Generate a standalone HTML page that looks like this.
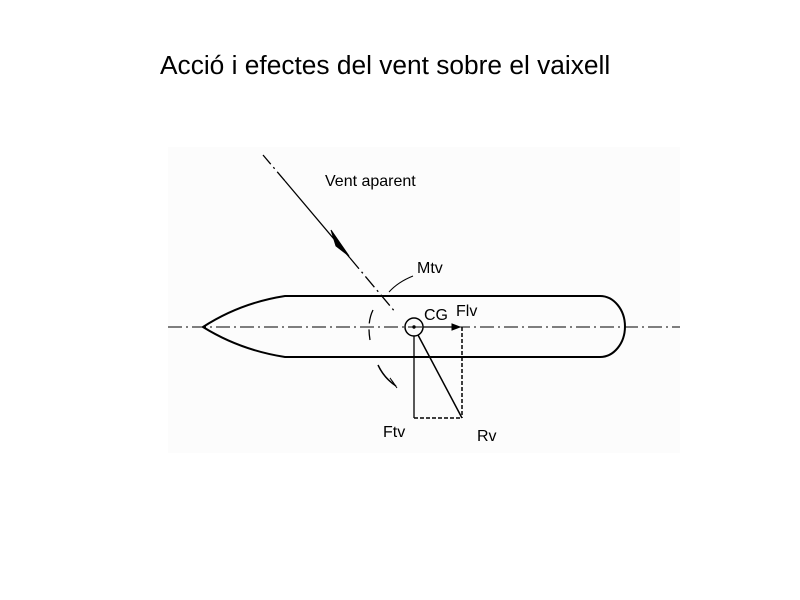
<!DOCTYPE html>
<html><head><style>
body{margin:0;background:#fff;width:800px;height:600px;overflow:hidden;font-family:"Liberation Sans",sans-serif}
</style></head><body>
<svg width="800" height="600" xmlns="http://www.w3.org/2000/svg" style="position:absolute;left:0;top:0">
<rect x="168" y="147" width="512" height="306" fill="#fcfcfc"/>
<text x="160" y="74" font-family="Liberation Sans, sans-serif" font-size="26.3" fill="#000">Acció i efectes del vent sobre el vaixell</text>
<g stroke="#000" fill="none">
<line x1="168" y1="327" x2="680" y2="327" stroke-width="1" stroke-dasharray="14,4,2,4"/>
<path d="M203,327 Q240,303 285,296 L600,296 A25,30.5 0 0 1 600,357 L285,357 Q240,350 203,327 Z" stroke-width="2"/>
<line x1="263" y1="155" x2="285" y2="181" stroke-width="1.3" stroke-dasharray="12,4,2,4"/>
<line x1="285" y1="181" x2="350" y2="258" stroke-width="1.3"/>
<line x1="350" y1="258" x2="396" y2="313" stroke-width="1.3" stroke-dasharray="14,4,2,4"/>
<path d="M331,230 L349,256 L336,246 Z" fill="#000" stroke-width="1"/>
<circle cx="414" cy="327" r="9" stroke-width="1.5"/>
<circle cx="414" cy="327" r="1.2" fill="#000"/>
<line x1="423" y1="327" x2="457" y2="327" stroke-width="1.3"/>
<path d="M452,324 L460,327 L452,330 Z" fill="#000"/>
<line x1="462" y1="327" x2="462" y2="418" stroke-width="1.5" stroke-dasharray="4,2"/>
<line x1="414" y1="418" x2="462" y2="418" stroke-width="1.5" stroke-dasharray="4,2"/>
<line x1="414" y1="336" x2="414" y2="418" stroke-width="1.3"/>
<line x1="418" y1="335" x2="462" y2="418" stroke-width="1.5"/>
<path d="M389,292 Q398,282 413,276" stroke-width="1"/>
<path d="M373,310 Q367,322 370,340" stroke-width="1.3" stroke-dasharray="14,6"/>
<path d="M378,365 Q384,378 396,386" stroke-width="1.5"/>
<path d="M390,378 L397,388 L393,382 Z" fill="#000"/>
</g>
<g font-family="Liberation Sans, sans-serif" font-size="16" fill="#000">
<text x="325" y="186">Vent aparent</text>
<text x="417" y="273">Mtv</text>
<text x="424" y="320">CG</text>
<text x="456" y="316">Flv</text>
<text x="383" y="437">Ftv</text>
<text x="477" y="441">Rv</text>
</g>
</svg>
</body></html>
